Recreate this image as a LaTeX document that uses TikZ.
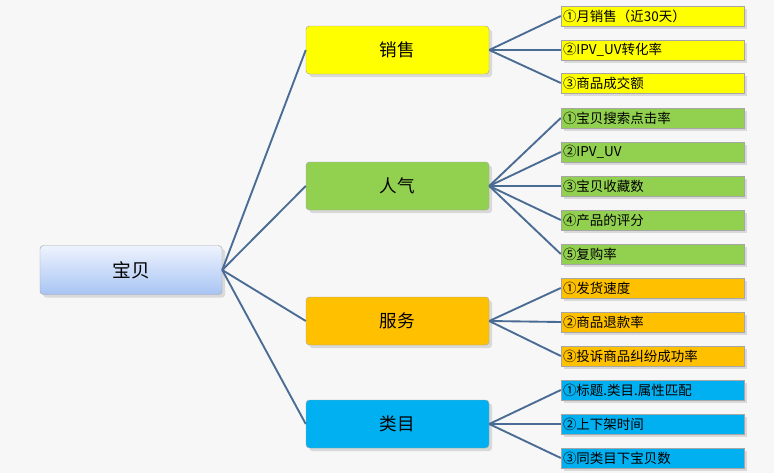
\documentclass[tikz,border=0pt]{standalone}
\usepackage{fontspec}
\setmainfont{Noto Sans CJK SC}
\usetikzlibrary{shadows}
\definecolor{linkblue}{HTML}{4A6C94}
\definecolor{roottop}{HTML}{EEF3FD}
\definecolor{rootbottom}{HTML}{A8C4F4}
\definecolor{sellyellow}{HTML}{FFFF00}
\definecolor{popgreen}{HTML}{92D050}
\definecolor{servorange}{HTML}{FFC000}
\definecolor{catcyan}{HTML}{00B0F0}

\begin{document}
\begin{tikzpicture}[x=0.03cm, y=-0.03cm,
every node/.style={align=center},
rootbox/.style={draw=gray!70, rounded corners=3pt, top color=roottop, bottom color=rootbottom,
  minimum width=182*0.03cm, minimum height=49*0.03cm, font=\fontsize{16}{16}\selectfont, drop shadow={opacity=0.25}},
midbox/.style={draw=gray!70, rounded corners=3pt, minimum width=183*0.03cm, minimum height=48*0.03cm,
  font=\fontsize{15}{15}\selectfont, drop shadow={opacity=0.25}},
leafbox/.style={draw=gray!70, minimum width=183*0.03cm, minimum height=20*0.03cm, inner sep=1pt,
  text width=179*0.03cm, align=left, font=\fontsize{11.5}{12}\selectfont, drop shadow={opacity=0.25}},
link/.style={linkblue, line width=1.6pt}]
%================================================================
%	Background
\fill[gray!6] (0,0) rectangle (774,473);
\useasboundingbox (0,0) rectangle (774,473);

%================================================================
%	Nodes
\node[rootbox] (root) at (131,270) {宝贝};

\node[midbox, fill=sellyellow] (sell) at (397.5,50) {销售};
\node[midbox, fill=popgreen] (pop) at (397.5,186) {人气};
\node[midbox, fill=servorange] (serv) at (397.5,321) {服务};
\node[midbox, fill=catcyan] (cat) at (397.5,424) {类目};

%----------------------------------------------------------------
\node[leafbox, fill=sellyellow] (s1) at (652.5,16) {①月销售（近30天）};
\node[leafbox, fill=sellyellow] (s2) at (652.5,50) {②IPV\_UV转化率};
\node[leafbox, fill=sellyellow] (s3) at (652.5,83) {③商品成交额};

\node[leafbox, fill=popgreen] (p1) at (652.5,118) {①宝贝搜索点击率};
\node[leafbox, fill=popgreen] (p2) at (652.5,152) {②IPV\_UV};
\node[leafbox, fill=popgreen] (p3) at (652.5,186) {③宝贝收藏数};
\node[leafbox, fill=popgreen] (p4) at (652.5,220) {④产品的评分};
\node[leafbox, fill=popgreen] (p5) at (652.5,254) {⑤复购率};

\node[leafbox, fill=servorange] (v1) at (652.5,288) {①发货速度};
\node[leafbox, fill=servorange] (v2) at (652.5,322) {②商品退款率};
\node[leafbox, fill=servorange] (v3) at (652.5,356) {③投诉商品纠纷成功率};

\node[leafbox, fill=catcyan] (c1) at (652.5,390) {①标题.类目.属性匹配};
\node[leafbox, fill=catcyan] (c2) at (652.5,424) {②上下架时间};
\node[leafbox, fill=catcyan] (c3) at (652.5,458) {③同类目下宝贝数};

%================================================================
%	Lines
\foreach \m in {sell, pop, serv, cat}
  \draw[link] (root.east) -- (\m.west);
\foreach \l in {s1, s2, s3}
  \draw[link] (sell.east) -- (\l.west);
\foreach \l in {p1, p2, p3, p4, p5}
  \draw[link] (pop.east) -- (\l.west);
\foreach \l in {v1, v2, v3}
  \draw[link] (serv.east) -- (\l.west);
\foreach \l in {c1, c2, c3}
  \draw[link] (cat.east) -- (\l.west);
%================================================================
\end{tikzpicture}
\end{document}
